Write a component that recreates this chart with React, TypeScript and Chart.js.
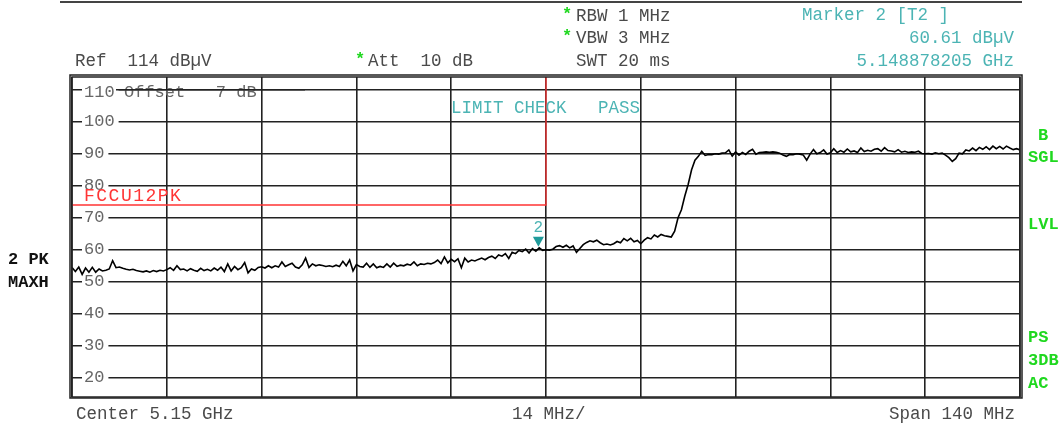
import React, { useEffect, useRef } from "react";
import { Chart, registerables } from "chart.js";

Chart.register(...registerables);

// ---- sweep / data ----
const sweepStartMHz = 5080;
const sweepStopMHz = 5220;
const sweepStepMHz = 0.5;
const refLevelDbuv = 114;
const bottomLevelDbuv = 14;

const traceDbuv: number[] = [
  54.5, 53.2, 54.6, 52.3, 54.3, 53.0, 54.5, 53.0, 54.0, 53.4, 53.6, 54.0, 56.6, 54.4, 54.6, 54.2, 53.9, 53.7, 53.9, 53.5,
  53.3, 53.1, 53.4, 53.0, 53.5, 53.2, 53.6, 53.4, 53.8, 54.4, 53.6, 55.0, 53.8, 54.0, 53.4, 54.1, 53.6, 53.3, 54.2, 53.5,
  53.9, 53.4, 54.3, 53.6, 54.6, 53.2, 55.6, 53.4, 54.8, 53.8, 54.4, 56.0, 52.8, 54.0, 53.6, 54.5, 54.7, 54.3, 55.0, 54.4,
  55.0, 54.6, 56.2, 54.8, 55.3, 55.8, 54.6, 54.2, 55.3, 57.4, 54.5, 55.6, 55.0, 55.3, 55.1, 54.8, 55.0, 54.7, 55.2, 54.8,
  56.4, 55.0, 56.8, 53.4, 55.4, 54.8, 54.6, 55.8, 54.5, 55.6, 54.4, 54.8, 54.5, 55.6, 54.6, 55.8, 54.8, 55.2, 55.0, 55.5,
  55.2, 56.2, 55.0, 55.6, 55.4, 55.8, 55.6, 56.0, 56.8, 55.7, 57.8, 55.9, 57.0, 56.3, 57.2, 54.4, 57.4, 56.2, 56.8, 56.5,
  57.0, 57.4, 56.9, 57.6, 58.0, 57.3, 58.4, 58.0, 58.8, 57.3, 59.2, 58.8, 59.8, 59.4, 60.2, 59.0, 60.4, 59.6, 60.6, 59.8,
  60.0, 59.9, 60.2, 61.0, 61.3, 60.8, 61.4, 60.6, 61.2, 59.2, 60.4, 61.6, 62.3, 62.8, 62.5, 63.0, 62.2, 61.6, 61.8, 61.5,
  61.9, 62.6, 62.2, 63.5, 62.8, 63.6, 62.5, 62.9, 61.9, 63.0, 63.8, 63.4, 64.6, 64.0, 64.8, 64.4, 64.2, 64.0, 65.8, 70.0,
  72.5, 76.8, 80.5, 85.0, 88.0, 89.2, 90.8, 89.5, 89.8, 89.7, 90.0, 89.9, 90.2, 90.3, 91.2, 89.3, 90.6, 89.6, 90.4, 89.8,
  90.8, 91.4, 89.9, 90.4, 90.5, 90.6, 90.5, 90.6, 90.5, 90.2, 89.6, 89.2, 89.8, 89.7, 90.0, 89.9, 89.6, 88.0, 89.9, 91.3,
  90.0, 90.4, 91.2, 89.9, 90.3, 91.6, 90.4, 91.0, 90.5, 91.5, 90.6, 90.9, 90.4, 91.8, 90.7, 91.1, 90.8, 91.4, 91.6, 90.8,
  91.9, 91.0, 90.9, 90.6, 91.3, 90.5, 90.8, 90.4, 90.6, 90.5, 90.8, 90.1, 90.0, 90.1, 89.9, 90.3, 90.0, 90.2, 89.6, 88.8,
  87.6, 88.5, 90.2, 90.0, 91.2, 90.9, 91.8, 91.0, 92.0, 91.4, 92.2, 91.3, 92.4, 91.6, 92.3, 91.5, 92.4, 91.8, 91.3, 91.6, 91.2,
];

const yTickValues = [20, 30, 40, 50, 60, 70, 80, 90, 100, 110];
const xTickValues = [5080, 5094, 5108, 5122, 5136, 5150, 5164, 5178, 5192, 5206, 5220];

const limitFreqMHz = [5080, 5150, 5150];
const limitDbuv = [74, 74, 114];
const limitName = "FCCU12PK";

const markerFreqMHz = 5148.878205;
const markerDbuv = 60.61;
const markerLabel = "2";

// ---- styles ----
const MONO = '"Courier New", "Nimbus Mono PS", "Nimbus Mono L", FreeMono, "Liberation Mono", monospace';
const GREY = "#4a4a4a";
const TEAL = "#4cb4b4";
const TEAL_DARK = "#1f9a9a";
const GREEN = "#1fd81f";
const RED = "#ff3535";
const GRID = "#222222";

const overlayPlugin = {
  id: "overlay",
  beforeDraw(chart: any) {
    const ctx = chart.ctx;
    ctx.save();
    ctx.fillStyle = "#ffffff";
    ctx.fillRect(0, 0, chart.width, chart.height);
    ctx.restore();
  },
  afterDraw(chart: any) {
    const ctx: CanvasRenderingContext2D = chart.ctx;
    const area = chart.chartArea;
    const xs = chart.scales.x;
    const ys = chart.scales.y;
    ctx.save();

    // frame (double line)
    ctx.strokeStyle = GRID;
    ctx.lineWidth = 1.5;
    ctx.strokeRect(area.left, area.top, area.right - area.left, area.bottom - area.top);
    ctx.strokeRect(area.left - 2, area.top - 2, area.right - area.left + 4, area.bottom - area.top + 3);

    // header separator
    ctx.strokeStyle = "#444";
    ctx.lineWidth = 2;
    ctx.beginPath();
    ctx.moveTo(60, 2);
    ctx.lineTo(area.right + 2, 2);
    ctx.stroke();

    const text = (s: string, x: number, y: number, color: string, font: string, align: CanvasTextAlign = "left") => {
      ctx.font = font;
      ctx.fillStyle = color;
      ctx.textAlign = align;
      ctx.textBaseline = "middle";
      ctx.fillText(s, x, y);
    };
    const reg = `17.5px ${MONO}`;
    const bold = `bold 17px ${MONO}`;

    // y tick labels inside the plot
    ctx.font = `17px ${MONO}`;
    yTickValues.forEach((v) => {
      const y = ys.getPixelForValue(v);
      const label = String(v);
      const w = ctx.measureText(label).width;
      ctx.fillStyle = "#ffffff";
      ctx.fillRect(area.left + 10, y - 2, w + 6, 4);
      const ly = Math.max(y, area.top + 15);
      text(label, area.left + 12, ly, "#666", `17px ${MONO}`);
    });

    // offset annotation
    text("Offset   7 dB", 124, 92, "#666", `17px ${MONO}`);
    ctx.strokeStyle = GRID;
    ctx.lineWidth = 1.5;
    ctx.beginPath();
    ctx.moveTo(area.left + 44, ys.getPixelForValue(110));
    ctx.lineTo(305, ys.getPixelForValue(110));
    ctx.stroke();

    // limit label & check
    ctx.save();
    (ctx as any).letterSpacing = "1.5px";
    text(limitName, area.left + 12, ys.getPixelForValue(limitDbuv[0]) - 9, RED, `18px ${MONO}`);
    ctx.restore();
    text("LIMIT CHECK   PASS", 451, 108, TEAL, reg);

    // marker
    const mx = xs.getPixelForValue(markerFreqMHz);
    const my = ys.getPixelForValue(markerDbuv) - 1;
    ctx.fillStyle = TEAL_DARK;
    ctx.beginPath();
    ctx.moveTo(mx - 5.5, my - 10);
    ctx.lineTo(mx + 5.5, my - 10);
    ctx.lineTo(mx, my);
    ctx.closePath();
    ctx.fill();
    text(markerLabel, mx, my - 19, TEAL, `16px ${MONO}`, "center");

    // header
    text("*", 562, 15, GREEN, bold);
    text("RBW 1 MHz", 576, 16, GREY, reg);
    text("*", 562, 37, GREEN, bold);
    text("VBW 3 MHz", 576, 38, GREY, reg);
    text("SWT 20 ms", 576, 61, GREY, reg);
    text("Ref  114 dB\u00b5V", 75, 61, GREY, reg);
    text("*", 355, 60, GREEN, bold);
    text("Att  10 dB", 368, 61, GREY, reg);
    text("Marker 2 [T2 ]", 802, 15, TEAL, reg);
    text("60.61 dB\u00b5V", 1014, 38, TEAL, reg, "right");
    text("5.148878205 GHz", 1014, 61, TEAL, reg, "right");

    // footer
    text("Center 5.15 GHz", 76, 414, GREY, reg);
    text("14 MHz/", 512, 414, GREY, reg);
    text("Span 140 MHz", 1015, 414, GREY, reg, "right");

    // left side
    text("2 PK", 8, 260, "#111", bold);
    text("MAXH", 8, 283, "#111", bold);

    // right side
    text("B", 1038, 136, GREEN, bold);
    text("SGL", 1028, 158, GREEN, bold);
    text("LVL", 1028, 225, GREEN, bold);
    text("PS", 1028, 338, GREEN, bold);
    text("3DB", 1028, 361, GREEN, bold);
    text("AC", 1028, 384, GREEN, bold);

    ctx.restore();
  },
};

export default function App() {
  const ref = useRef<HTMLCanvasElement | null>(null);

  useEffect(() => {
    if (!ref.current) return;
    const tracePoints = traceDbuv.map((v, i) => ({ x: sweepStartMHz + i * sweepStepMHz, y: v }));
    const limitPoints = limitFreqMHz.map((f, i) => ({ x: f, y: limitDbuv[i] }));
    const chart = new Chart(ref.current, {
      type: "line",
      data: {
        datasets: [
          {
            label: "Trace 2",
            data: tracePoints,
            borderColor: "#000000",
            borderWidth: 1.6,
            pointRadius: 0,
            tension: 0,
          },
          {
            label: limitName,
            data: limitPoints,
            borderColor: RED,
            borderWidth: 1.3,
            pointRadius: 0,
            tension: 0,
          },
        ],
      },
      options: {
        animation: false,
        responsive: false,
        maintainAspectRatio: false,
        events: [],
        layout: { padding: { left: 72, top: 77, right: 42, bottom: 31 } },
        plugins: {
          legend: { display: false },
          tooltip: { enabled: false },
          title: { display: false },
        },
        scales: {
          x: {
            type: "linear",
            min: sweepStartMHz,
            max: sweepStopMHz,
            afterBuildTicks: (axis: any) => {
              axis.ticks = xTickValues.map((v) => ({ value: v }));
            },
            ticks: { display: false },
            grid: { color: GRID, lineWidth: 1.6, drawTicks: false },
            border: { display: false },
          },
          y: {
            type: "linear",
            min: bottomLevelDbuv,
            max: refLevelDbuv,
            afterBuildTicks: (axis: any) => {
              axis.ticks = yTickValues.map((v) => ({ value: v }));
            },
            ticks: { display: false },
            grid: { color: GRID, lineWidth: 1.6, drawTicks: false },
            border: { display: false },
          },
        },
      },
      plugins: [overlayPlugin],
    } as any);
    return () => chart.destroy();
  }, []);

  return (
    <div style={{ position: "absolute", left: 0, top: 0, width: 1062, height: 428, background: "#fff" }}>
      <canvas ref={ref} width={1062} height={428} style={{ display: "block", width: 1062, height: 428 }} />
    </div>
  );
}
